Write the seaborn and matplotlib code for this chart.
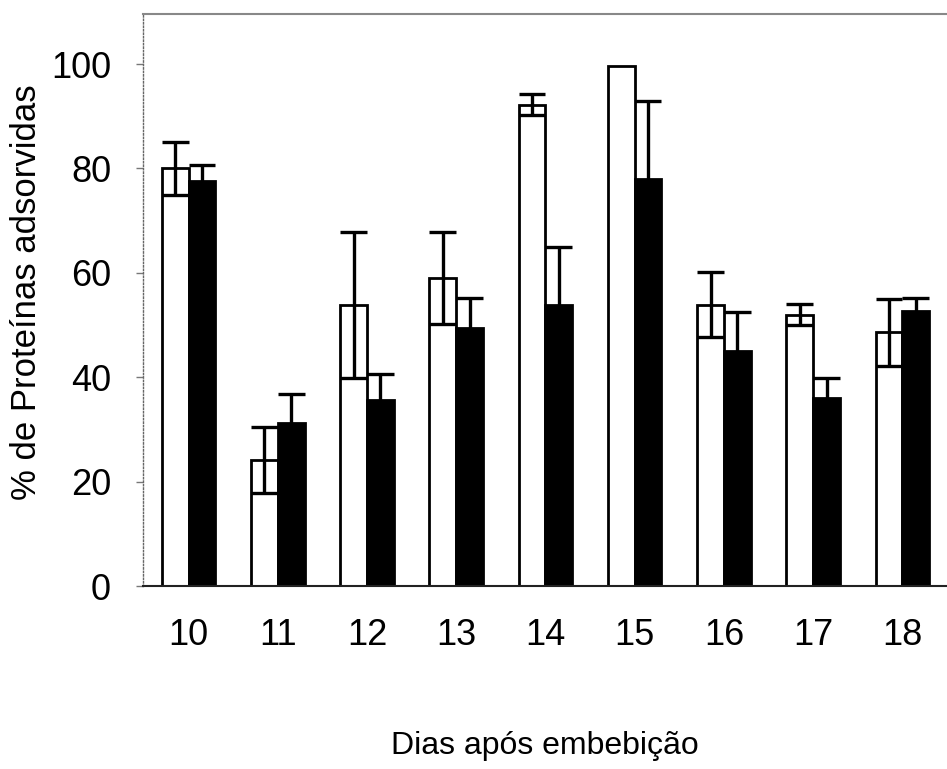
import matplotlib
matplotlib.use("Agg")
import matplotlib.pyplot as plt
import seaborn as sns
import pandas as pd
import numpy as np

# ---- data ----
days = ["10", "11", "12", "13", "14", "15", "16", "17", "18"]
white_vals = [80.0, 24.2, 53.9, 59.0, 92.2, 99.6, 53.9, 52.0, 48.6]
white_err = [5.0, 6.3, 14.0, 8.8, 2.0, 0.0, 6.2, 2.0, 6.4]
black_vals = [77.6, 31.3, 35.6, 49.4, 53.9, 78.0, 45.0, 36.1, 52.6]
black_err = [3.0, 5.5, 5.0, 5.7, 11.0, 15.0, 7.5, 3.7, 2.5]
groups = ["A", "B"]
y_ticks = [0, 20, 40, 60, 80, 100]

df = pd.DataFrame({
    "dia": days * 2,
    "valor": white_vals + black_vals,
    "grupo": [groups[0]] * len(days) + [groups[1]] * len(days),
})

sns.set_style("white")
plt.rcParams["font.family"] = ["Liberation Sans", "DejaVu Sans"]
plt.rcParams["text.color"] = "black"
plt.rcParams["axes.labelcolor"] = "black"
plt.rcParams["xtick.color"] = "black"
plt.rcParams["ytick.color"] = "black"

fig = plt.figure(figsize=(9.47, 7.69), dpi=100)
ax = fig.add_axes([143 / 947, 1 - 586 / 769, (947 - 143) / 947, (586 - 14) / 769])

sns.barplot(data=df, x="dia", y="valor", hue="grupo", order=days, hue_order=groups,
            palette=["white", "black"], width=0.6, errorbar=None,
            edgecolor="black", linewidth=2.0, legend=False, ax=ax)

# error bars placed on the bars seaborn drew
bars = [p for p in ax.patches if p.get_width() > 0]
bars_white = bars[:len(days)]
bars_black = bars[len(days):2 * len(days)]
for blist, vals, errs in ((bars_white, white_vals, white_err), (bars_black, black_vals, black_err)):
    xs = [b.get_x() + b.get_width() / 2 for b in blist]
    cap = blist[0].get_width() / 2
    for xc, v, e in zip(xs, vals, errs):
        if e <= 0:
            continue
        ax.plot([xc, xc], [v - e, v + e], color="black", lw=2.4, zorder=5, solid_capstyle="butt")
        ax.plot([xc - cap, xc + cap], [v + e, v + e], color="black", lw=2.4, zorder=5, solid_capstyle="butt")
        ax.plot([xc - cap, xc + cap], [v - e, v - e], color="black", lw=2.4, zorder=5, solid_capstyle="butt")

ax.set_xlim(-0.51, 8.37)
ax.set_ylim(0, 109.6)
ax.set_yticks(y_ticks)
ax.set_yticklabels([str(t) for t in y_ticks])

# category labels at centers, small ticks between categories
ax.set_xticks(range(len(days)))
ax.set_xticklabels(days)
ax.set_xticks([i + 0.5 for i in range(-1, len(days))], minor=True)
ax.tick_params(axis="x", which="major", length=0, pad=23, labelsize=26, labelcolor="black")
ax.tick_params(axis="x", which="minor", length=6, width=1, color="#777777", direction="out")
ax.tick_params(axis="y", which="major", length=5, width=1, color="#777777",
               direction="out", pad=18, labelsize=26, left=True, labelcolor="black")

ax.set_xlabel("Dias após embebição", fontsize=23, color="black")
ax.xaxis.set_label_coords(0.5, (586 - 746) / 572)
ax.xaxis.label.set_va("center")
ax.set_ylabel("% de Proteínas adsorvidas", fontsize=25, color="black")
ax.yaxis.set_label_coords((26 - 143) / 804, (586 - 292) / 572)
ax.yaxis.label.set_va("center")

for s in ax.spines.values():
    s.set_visible(False)
ax.spines["left"].set_visible(True)
ax.spines["left"].set_linestyle((0, (1, 1.5)))
ax.spines["left"].set_color("#666666")
ax.spines["left"].set_linewidth(1.0)
ax.spines["bottom"].set_visible(True)
ax.spines["bottom"].set_color("#222222")
ax.spines["bottom"].set_linewidth(1.5)
ax.spines["top"].set_visible(True)
ax.spines["top"].set_color("#888888")
ax.spines["top"].set_linewidth(1.5)

fig.savefig("out.png", dpi=100, facecolor="white")
